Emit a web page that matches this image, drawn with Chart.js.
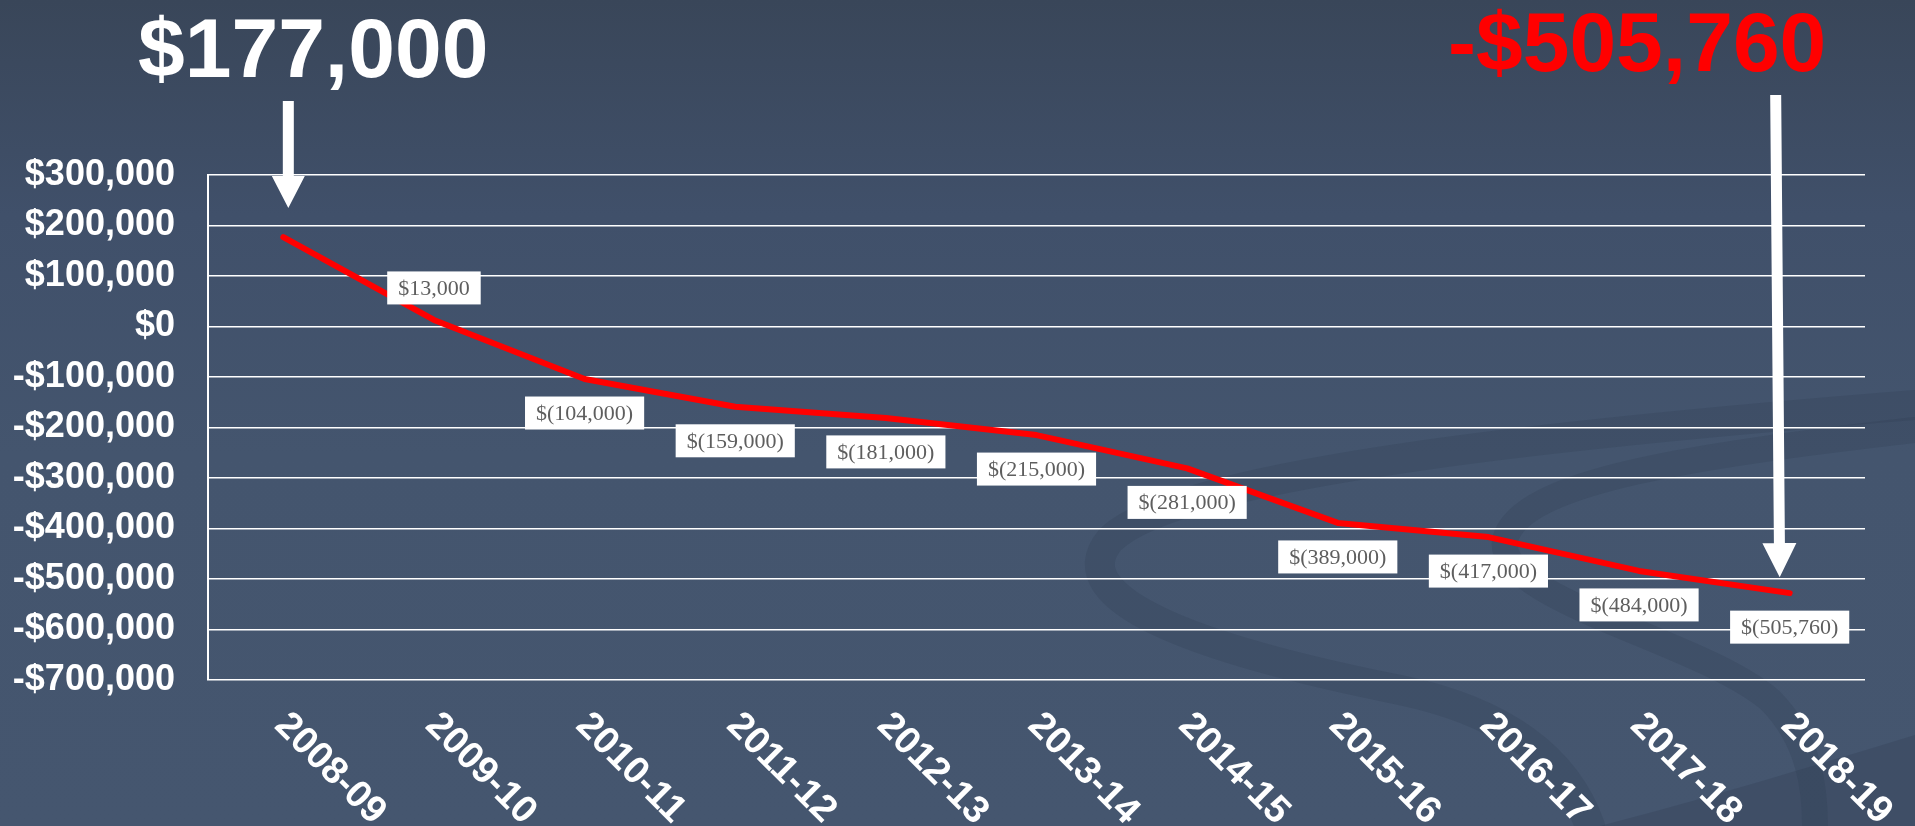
<!DOCTYPE html>
<html>
<head>
<meta charset="utf-8">
<title>Balance projection 2008-09 to 2018-19</title>
<script src="https://cdn.jsdelivr.net/npm/chart.js@4.4.1/dist/chart.umd.min.js"></script>
<style>
    html, body { margin: 0; padding: 0; }
    body {
        width: 1915px;
        height: 826px;
        overflow: hidden;
        position: relative;
        background: linear-gradient(to bottom, #394659 0%, #40506a 26%, #44556e 55%, #45566f 100%);
        font-family: "Liberation Sans", Arial, sans-serif;
    }
    #wrap { position: absolute; left: 0; top: 0; width: 1915px; height: 826px; }
    .callout {
        position: absolute;
        font-weight: bold;
        font-size: 84px;
        line-height: 84px;
        white-space: nowrap;
    }
    #startValue { left: 138px; top: 6px; color: #ffffff; }
    #endValue { left: 1448px; top: 0px; color: #ff0000; }
</style>
</head>
<body>
<div id="wrap"><canvas id="balanceChart"></canvas></div>
<div class="callout" id="startValue">$177,000</div>
<div class="callout" id="endValue">-$505,760</div>

<script>
// values
const seasons = ['2008-09', '2009-10', '2010-11', '2011-12', '2012-13', '2013-14',
                 '2014-15', '2015-16', '2016-17', '2017-18', '2018-19'];
const balance = [177000, 13000, -104000, -159000, -181000, -215000,
                 -281000, -389000, -417000, -484000, -528000];
const balanceLabels = [null, '$13,000', '$(104,000)', '$(159,000)', '$(181,000)', '$(215,000)',
                       '$(281,000)', '$(389,000)', '$(417,000)', '$(484,000)', '$(505,760)'];
const yMin = -700000;
const yMax = 300000;
const yStep = 100000;

function money(v) {
    const s = '$' + Math.abs(v).toLocaleString('en-US');
    return v < 0 ? '-' + s : s;
}

// faint swirl in the slide background
const backdrop = {
    id: 'backdrop',
    beforeDraw(chart) {
        const ctx = chart.ctx;
        ctx.save();
        ctx.lineCap = 'round';
        ctx.strokeStyle = 'rgba(40, 52, 70, 0.16)';
        ctx.lineWidth = 30;
        ctx.beginPath();
        ctx.moveTo(1915, 405);
        ctx.bezierCurveTo(1600, 430, 1180, 470, 1110, 540);
        ctx.bezierCurveTo(1060, 600, 1200, 650, 1400, 690);
        ctx.bezierCurveTo(1520, 715, 1570, 770, 1590, 826);
        ctx.stroke();

        ctx.lineWidth = 26;
        ctx.beginPath();
        ctx.moveTo(1915, 430);
        ctx.bezierCurveTo(1700, 455, 1520, 480, 1505, 540);
        ctx.bezierCurveTo(1495, 600, 1700, 640, 1770, 700);
        ctx.bezierCurveTo(1810, 740, 1815, 790, 1815, 826);
        ctx.stroke();

        ctx.fillStyle = 'rgba(40, 52, 70, 0.2)';
        ctx.beginPath();
        ctx.moveTo(1915, 735);
        ctx.bezierCurveTo(1800, 770, 1700, 800, 1600, 826);
        ctx.lineTo(1915, 826);
        ctx.closePath();
        ctx.fill();
        ctx.restore();
    }
};

// white boxes with the value under (or above) each point
const valueBoxes = {
    id: 'valueBoxes',
    afterDatasetsDraw(chart) {
        const meta = chart.getDatasetMeta(0);
        const ctx = chart.ctx;
        ctx.save();
        ctx.font = '22px "Liberation Serif", "Times New Roman", serif';
        ctx.textAlign = 'center';
        ctx.textBaseline = 'middle';
        meta.data.forEach((pt, i) => {
            const text = balanceLabels[i];
            if (!text) return;
            const w = ctx.measureText(text).width + 22;
            const h = 33;
            const cy = balance[i] >= 0 ? pt.y - 32 : pt.y + 34;
            ctx.fillStyle = '#ffffff';
            ctx.fillRect(pt.x - w / 2, cy - h / 2, w, h);
            ctx.fillStyle = '#5e5e5e';
            ctx.fillText(text, pt.x, cy + 1);
        });
        ctx.restore();
    }
};

function drawArrow(ctx, x0, y0, x1, y1, shaft, headW, headL) {
    const ang = Math.atan2(y1 - y0, x1 - x0);
    const len = Math.hypot(x1 - x0, y1 - y0);
    ctx.save();
    ctx.translate(x0, y0);
    ctx.rotate(ang);
    ctx.beginPath();
    ctx.moveTo(0, -shaft / 2);
    ctx.lineTo(len - headL, -shaft / 2);
    ctx.lineTo(len - headL, -headW / 2);
    ctx.lineTo(len, 0);
    ctx.lineTo(len - headL, headW / 2);
    ctx.lineTo(len - headL, shaft / 2);
    ctx.lineTo(0, shaft / 2);
    ctx.closePath();
    ctx.fill();
    ctx.restore();
}

// arrows from the callouts and the slanted season labels
const annotations = {
    id: 'annotations',
    afterDraw(chart) {
        const ctx = chart.ctx;
        const pts = chart.getDatasetMeta(0).data;
        const first = pts[0];
        const last = pts[pts.length - 1];
        ctx.save();
        ctx.fillStyle = '#ffffff';
        drawArrow(ctx, first.x + 5, 101, first.x + 5, first.y - 29, 11, 33, 32);
        drawArrow(ctx, last.x - 14, 95, last.x - 10, last.y - 16, 11, 34, 34);

        const xs = chart.scales.x;
        ctx.font = 'bold 38px "Liberation Sans", Arial, sans-serif';
        ctx.textAlign = 'left';
        ctx.textBaseline = 'alphabetic';
        chart.data.labels.forEach((lab, i) => {
            const px = xs.getPixelForValue(i);
            ctx.save();
            ctx.translate(px - 10, chart.chartArea.bottom + 47);
            ctx.rotate(Math.PI / 4);
            ctx.fillText(lab, 0, 0);
            ctx.restore();
        });
        ctx.restore();
    }
};

const ctx = document.getElementById('balanceChart').getContext('2d');
const balanceChart = new Chart(ctx, {
    type: 'line',
    data: {
        labels: seasons,
        datasets: [{
            label: 'Balance',
            data: balance,
            borderColor: '#ff0000',
            borderWidth: 6,
            borderCapStyle: 'round',
            borderJoinStyle: 'round',
            pointRadius: 0,
            pointHoverRadius: 0,
            tension: 0,
            fill: false
        }]
    },
    options: {
        responsive: true,
        maintainAspectRatio: false,
        animation: false,
        layout: {
            padding: { left: 0, right: 50, top: 175, bottom: 146 }
        },
        plugins: {
            legend: { display: false },
            tooltip: { enabled: false }
        },
        scales: {
            x: {
                display: false,
                offset: true
            },
            y: {
                min: yMin,
                max: yMax,
                afterFit: (s) => { s.width = 208; },
                border: { display: true, color: '#ffffff', width: 2 },
                grid: { color: '#ffffff', lineWidth: 1.5, drawTicks: false },
                ticks: {
                    stepSize: yStep,
                    autoSkip: false,
                    padding: 33,
                    color: '#ffffff',
                    font: { family: '"Liberation Sans", Arial, sans-serif', size: 36, weight: 'bold' },
                    callback: (v) => money(v)
                }
            }
        }
    },
    plugins: [backdrop, valueBoxes, annotations]
});
</script>
</body>
</html>
